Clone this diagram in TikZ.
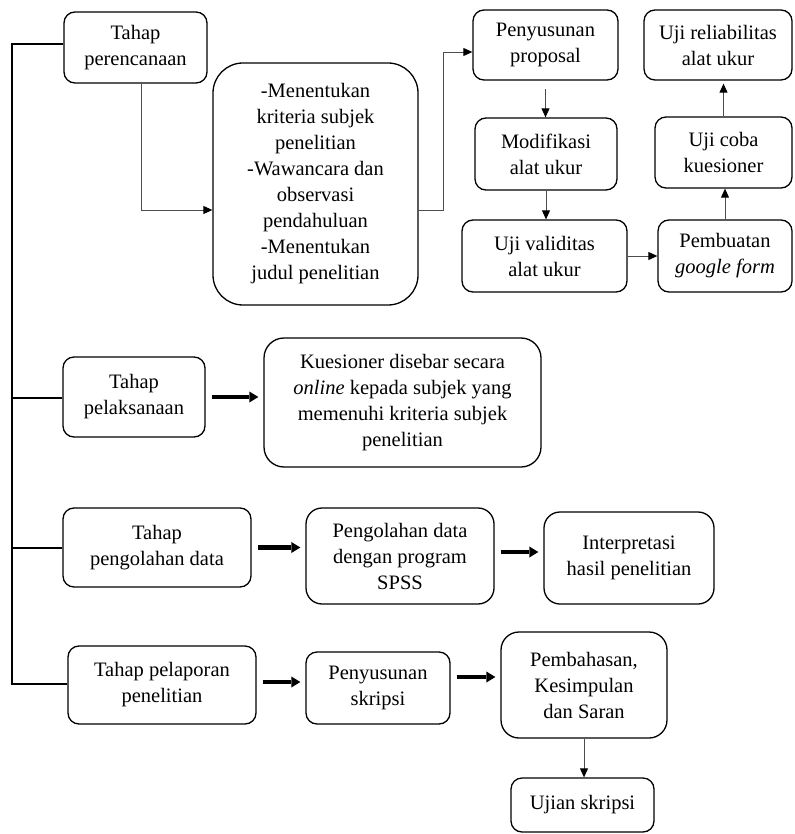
\documentclass[tikz,border=0pt]{standalone}
\usepackage{fontspec}
\setmainfont{Liberation Serif}
\usepackage{tikz}
\usetikzlibrary{arrows.meta}
\tikzstyle{box} = [draw, line width=1.3pt, rounded corners=11pt, align=center, inner sep=2pt, font=\fontsize{20.5}{26}\selectfont]
\tikzstyle{link} = [draw=black!70, line width=0.9pt, -{Triangle[length=9pt,width=8pt,black]}]
\tikzstyle{bigarrow} = [line width=4.4pt, -{Triangle[length=9pt,width=11pt,line width=0pt]}, shorten <=6pt, shorten >=5pt]
\tikzstyle{trunk} = [line width=2.2pt]

\begin{document}
\begin{tikzpicture}[x=1pt,y=-1pt]
\useasboundingbox (0,0) rectangle (794,834);

\node[box, minimum width=143pt, minimum height=71pt] (plan) at (135.5,47.5) {Tahap\\perencanaan};
\node[box, rounded corners=30pt, minimum width=205pt, minimum height=242pt] (steps) at (315.5,184) {-Menentukan\\kriteria subjek\\penelitian\\-Wawancara dan\\observasi\\pendahuluan\\-Menentukan\\judul penelitian};
\node[box, minimum width=145pt, minimum height=70pt] (prop) at (545.5,45) {Penyusunan\\proposal};
\node[box, minimum width=142pt, minimum height=72pt] (modif) at (546,154) {Modifikasi\\alat ukur};
\node[box, minimum width=165pt, minimum height=72pt] (valid) at (544.5,256) {Uji validitas\\alat ukur};
\node[box, minimum width=134pt, minimum height=72pt] (gform) at (725,256) {Pembuatan\\\textit{google form}};
\node[box, minimum width=137pt, minimum height=71pt] (trial) at (723.5,152.5) {Uji coba\\kuesioner};
\node[box, minimum width=148pt, minimum height=70pt] (reliab) at (718,45) {Uji reliabilitas\\alat ukur};

\node[box, minimum width=142pt, minimum height=80pt] (exec) at (134,397) {Tahap\\pelaksanaan};
\node[box, rounded corners=20pt, minimum width=277pt, minimum height=129pt] (quest) at (402.5,402.5) {Kuesioner disebar secara\\\textit{online} kepada subjek yang\\memenuhi kriteria subjek\\penelitian};

\node[box, minimum width=188pt, minimum height=79pt] (proc) at (157,547.5) {Tahap\\pengolahan data};
\node[box, rounded corners=16pt, minimum width=188pt, minimum height=96pt] (spss) at (400,556) {Pengolahan data\\dengan program\\SPSS};
\node[box, rounded corners=16pt, minimum width=170pt, minimum height=92pt] (interp) at (629,558) {Interpretasi\\hasil penelitian};

\node[box, minimum width=188pt, minimum height=78pt] (report) at (162,685) {Tahap pelaporan\\penelitian};
\node[box, minimum width=144pt, minimum height=72pt] (skripsi) at (378,688) {Penyusunan\\skripsi};
\node[box, rounded corners=18pt, minimum width=166pt, minimum height=106pt] (discuss) at (584,685) {Pembahasan,\\Kesimpulan\\dan Saran};
\node[box, minimum width=143pt, minimum height=54pt] (exam) at (582.5,805) {Ujian skripsi};

\coordinate (t1) at (12,44);
\coordinate (t2) at (12,398);
\coordinate (t3) at (12,548);
\coordinate (t4) at (12,684);
\coordinate (c1) at (141,210);
\coordinate (c2) at (443,52);

\draw[trunk] (t1 -| plan.west) -- (t1) -- (t4) -- (t4 -| report.west);
\draw[trunk] (t2) -- (t2 -| exec.west);
\draw[trunk] (t3) -- (t3 -| proc.west);

\draw[link] (plan.south -| c1) -- (c1) -- (c1 -| steps.west);
\draw[link] (c1 -| steps.east) -| (c2) -- (c2 -| prop.west);
\draw[link, shorten <=8pt] (prop.south) -- (prop.south |- modif.north);
\draw[link] (modif.south) -- (modif.south |- valid.north);
\draw[link] (valid.east) -- (valid.east -| gform.west);
\draw[link] (gform.north) -- (gform.north |- trial.south);
\draw[link, shorten >=3pt] (trial.north) -- (trial.north |- reliab.south);
\draw[link] (discuss.south) -- (discuss.south |- exam.north);

\draw[bigarrow] (exec.east) -- (exec.east -| quest.west);
\draw[bigarrow] (proc.east) -- (proc.east -| spss.west);
\draw[bigarrow] ([yshift=4pt]spss.east) -- ([yshift=4pt]spss.east -| interp.west);
\draw[bigarrow] ([yshift=3pt]report.east) -- ([yshift=3pt]report.east -| skripsi.west);
\draw[bigarrow] ([yshift=11pt]skripsi.east) -- ([yshift=11pt]skripsi.east -| discuss.west);

\end{tikzpicture}
\end{document}
